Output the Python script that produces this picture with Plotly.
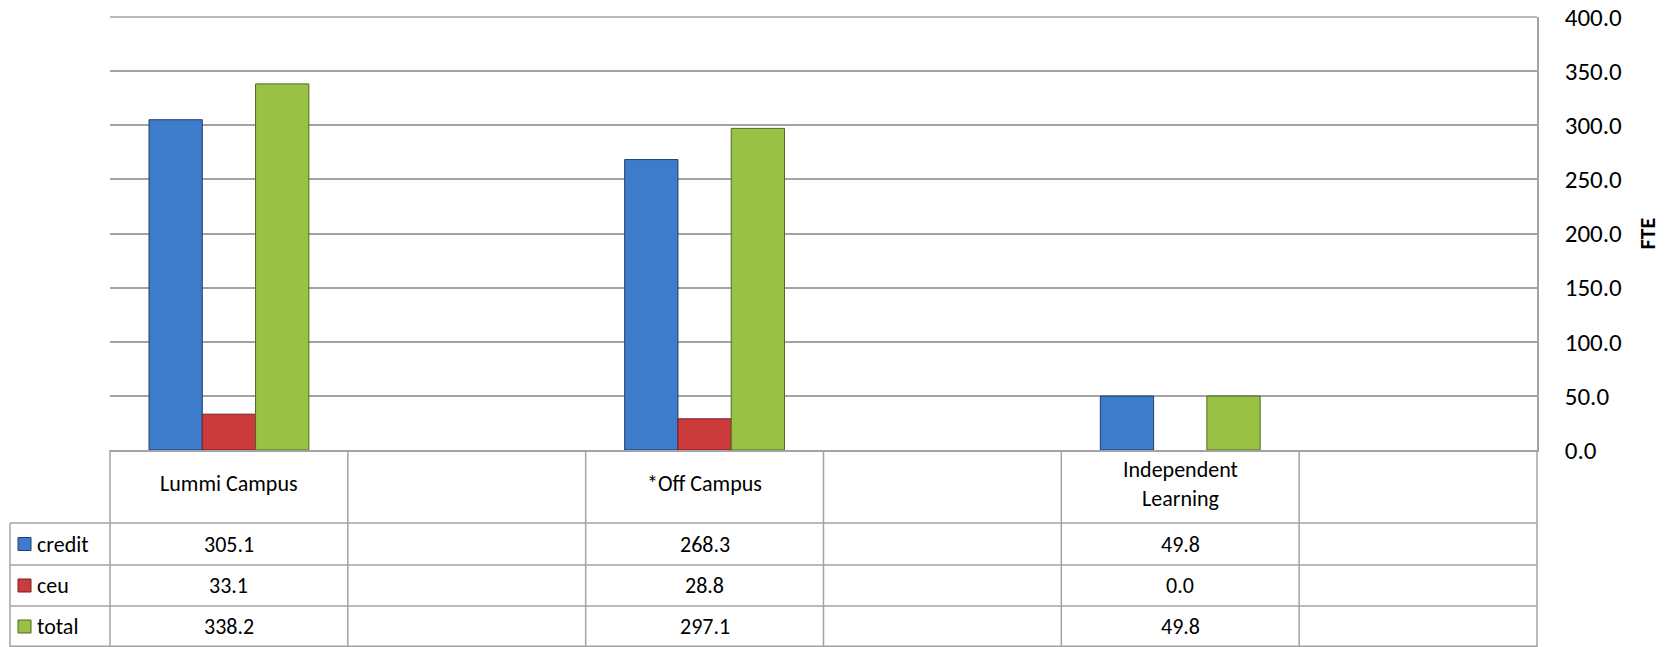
import plotly.graph_objects as go

# ---- data ----
categories = ["Lummi Campus", "", "*Off Campus", "", "Independent<br>Learning", ""]
series_names = ["credit", "ceu", "total"]
credit = [305.1, None, 268.3, None, 49.8, None]
ceu = [33.1, None, 28.8, None, 0.0, None]
total = [338.2, None, 297.1, None, 49.8, None]
y_ticks = [0, 50, 100, 150, 200, 250, 300, 350, 400]
axis_title = "FTE"

# ---- styles ----
fill_colors = ["#3D7CCB", "#CB3B3C", "#99C245"]
edge_colors = ["#1F3F6E", "#7A1F20", "#4F6A1F"]
grid_col = "#A3A3A3"
FONT = "Calibri, Carlito, Lato, sans-serif"
FS = 22
TICK_FS = 25

W, H = 1665, 647
ml, mr, mt, mb = 110, 128, 17, 197
plot_h = H - mt - mb
plot_w = W - ml - mr

n = len(categories)
xr = [-0.5, n - 0.5]
xs = list(range(n))


def xp(v):
    return (v - xr[0]) / (xr[1] - xr[0])


def yp(px_below):
    return -px_below / plot_h


fig = go.Figure()
for name, vals, fc, ec in zip(series_names, [credit, ceu, total], fill_colors, edge_colors):
    fig.add_trace(go.Bar(
        x=xs, y=vals, name=name,
        marker=dict(color=fc,
                    line=dict(color=ec, width=[0 if (v is None or v == 0) else 1 for v in vals])),
        showlegend=False,
    ))

shapes = []
annotations = []
line_style = dict(color=grid_col, width=1.5)

# top gridline (at range max)
shapes.append(dict(type="line", xref="paper", yref="paper", x0=0, x1=1, y0=1, y1=1, line=line_style))

# table geometry (px below the category axis)
row_edges = [73, 115, 156, 197]
legend_left = -100 / plot_w

for r in row_edges[:-1]:
    shapes.append(dict(type="line", xref="paper", yref="paper",
                       x0=legend_left, x1=1, y0=yp(r), y1=yp(r), line=line_style))
shapes.append(dict(type="line", xref="paper", yref="paper",
                   x0=legend_left, x1=1, y0=yp(196.3), y1=yp(196.3), line=line_style))
for i in range(n + 1):
    xv = xp(i - 0.5)
    shapes.append(dict(type="line", xref="paper", yref="paper",
                       x0=xv, x1=xv, y0=0, y1=yp(row_edges[-1]), line=line_style))
shapes.append(dict(type="line", xref="paper", yref="paper",
                   x0=legend_left, x1=legend_left, y0=yp(row_edges[0]), y1=yp(row_edges[-1]),
                   line=line_style))

# header labels
hdr_center = yp(row_edges[0] / 2 - 3)
for i, c in enumerate(categories):
    if c:
        annotations.append(dict(x=xs[i], xref="x", y=hdr_center, yref="paper",
                                text=c, showarrow=False, xanchor="center", yanchor="middle",
                                font=dict(family=FONT, size=FS, color="#000000")))

# data rows
row_tops = row_edges[:-1]
row_bots = row_edges[1:]
for r, (name, vals, fc, ec) in enumerate(zip(series_names, [credit, ceu, total], fill_colors, edge_colors)):
    yc = yp((row_tops[r] + row_bots[r]) / 2)
    for i, v in enumerate(vals):
        if v is not None:
            annotations.append(dict(x=xs[i], xref="x", y=yc, yref="paper",
                                    text=f"{v:.1f}", showarrow=False, xanchor="center", yanchor="middle",
                                    font=dict(family=FONT, size=FS, color="#000000")))
    shapes.append(dict(type="rect", xref="paper", yref="paper",
                       xsizemode="pixel", ysizemode="pixel",
                       xanchor=legend_left, yanchor=yc,
                       x0=8, x1=21, y0=-6.5, y1=6.5,
                       fillcolor=fc, line=dict(color=ec, width=1)))
    annotations.append(dict(x=-75 / plot_w, xref="paper", y=yc, yref="paper",
                            text=name, showarrow=False, xanchor="left", yanchor="middle",
                            font=dict(family=FONT, size=FS, color="#000000")))

# axis title
annotations.append(dict(x=1537 / plot_w, xref="paper", y=0.5, yref="paper",
                        text=f"<b>{axis_title}</b>", textangle=-90, showarrow=False,
                        xanchor="center", yanchor="middle",
                        font=dict(family=FONT, size=FS, color="#000000")))

fig.update_layout(
    width=W, height=H,
    margin=dict(l=ml, r=mr, t=mt, b=mb, autoexpand=False),
    paper_bgcolor="white", plot_bgcolor="white",
    barmode="group", bargap=0.328, bargroupgap=0,
    shapes=shapes, annotations=annotations,
    xaxis=dict(range=xr, showticklabels=False, ticks="", showgrid=False, zeroline=False,
               showline=True, linecolor=grid_col, linewidth=1.5, fixedrange=True),
    yaxis=dict(range=[0, 400], side="right", tickvals=y_ticks, tickformat=".1f",
               showgrid=True, gridcolor=grid_col, gridwidth=1.5, zeroline=False,
               showline=True, linecolor=grid_col, linewidth=1.5, ticks="",
               ticklabelstandoff=21, ticklabeloverflow="allow",
               tickfont=dict(family=FONT, size=TICK_FS, color="#000000")),
    font=dict(family=FONT, size=FS, color="#000000"),
)

# remove the browser's default body margin so the figure fills the window exactly
fig.write_html("out.html", config={"displayModeBar": False},
               post_script="document.body.style.margin='0';")
